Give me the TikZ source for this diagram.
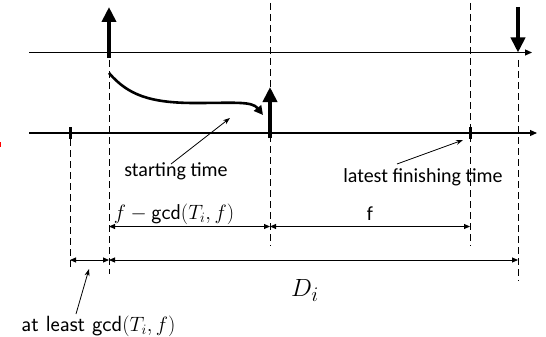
\documentclass[tikz,border=0pt]{standalone}
\usepackage{fontspec}
\newfontfamily\cali{Carlito}
\usetikzlibrary{arrows.meta}
\begin{document}
\begin{tikzpicture}[x=1pt,y=-1pt,
  axis/.style={line width=1.1pt,-{Triangle[length=7pt,width=6pt]}},
  dashv/.style={line width=0.9pt,dash pattern=on 7pt off 4pt},
  bigarrow/.style={line width=4pt,-{Triangle[length=15pt,width=14pt]}},
  tickmark/.style={line width=3pt},
  dim/.style={line width=0.9pt,{Triangle[length=6pt,width=5pt]}-{Triangle[length=6pt,width=5pt]}},
  pointer/.style={line width=0.8pt,-{Stealth[length=7pt,width=5pt]}},
  lbl/.style={font=\cali\fontsize{20}{22}\selectfont,inner sep=0pt,anchor=base},
  mlbl/.style={font=\fontsize{21.5}{24}\selectfont,inner sep=0pt,anchor=base}]
\useasboundingbox (0,0) rectangle (546,337);
% coordinates
\coordinate (ta0) at (29,52.5);
\coordinate (ta1) at (532,52.5);
\coordinate (ba0) at (29,133);
\coordinate (ba1) at (537,133);
% dashed verticals
\draw[dashv] (70,139) -- (70,268);
\draw[dashv] (109,60) -- (109,274);
\draw[dashv] (270,3) -- (270,246);
\draw[dashv] (470,3) -- (470,246);
\draw[dashv] (518,60) -- (518,281);
% axes
\draw[axis] (ta0) -- (ta1);
\draw[axis] (ba0) -- (ba1);
% ticks
\draw[tickmark] (70,127) -- (70,139);
\draw[tickmark] (470,127) -- (470,139);
% big arrows
\coordinate (r1) at (109,58);
\coordinate (r1t) at (109,7);
\draw[bigarrow] (r1) -- (r1t);
\coordinate (d1) at (518,7);
\coordinate (d1t) at (518,52.5);
\draw[bigarrow] (d1) -- (d1t);
\coordinate (s1) at (270,138);
\coordinate (s1t) at (270,87);
\draw[bigarrow] (s1) -- (s1t);
% curve
\coordinate (c0) at (109,73);
\coordinate (c1) at (263,115);
\draw[line width=2.6pt,-{Triangle[length=9pt,width=9pt]}] (c0) .. controls (128,95) and (150,103) .. (195,103)
  .. controls (235,103) and (252,101) .. (c1);
% labels
\node[lbl] (st) at (176,176) {starting time};
\node[lbl] (lf) at (423,182) {latest finishing time};
\coordinate (stp) at (230,118);
\coordinate (lfp) at (463,140);
\draw[pointer] (171,164) -- (stp);
\draw[pointer] (397,164) -- (lfp);
% dimensions
\coordinate (a0) at (109,226.5);
\coordinate (a1) at (270,226.5);
\coordinate (a2) at (470,226.5);
\draw[dim] (a0) -- (a1);
\draw[dim] (a1) -- (a2);
\coordinate (b0) at (70,260);
\coordinate (b1) at (109,260);
\coordinate (b2) at (518,260);
\draw[dim] (b0) -- (b1);
\draw[dim] (b1) -- (b2);
\node[mlbl] (fg) at (174,219) {$f-\textsf{gcd}(T_i,f)$};
\node[lbl] (ff) at (370,220) {f};
\node[mlbl,font=\fontsize{28}{30}\selectfont] (di) at (305,296) {$D_i$};
\node[mlbl,font=\fontsize{22}{24}\selectfont] (al) at (98.5,331) {\textsf{at least gcd}$(T_i,f)$};
\coordinate (alp) at (89,269);
\draw[pointer] (76,314) -- (alp);
% red mark
\draw[red,line width=1.2pt] (0.6,142) -- (0.6,147);
\end{tikzpicture}
\end{document}
